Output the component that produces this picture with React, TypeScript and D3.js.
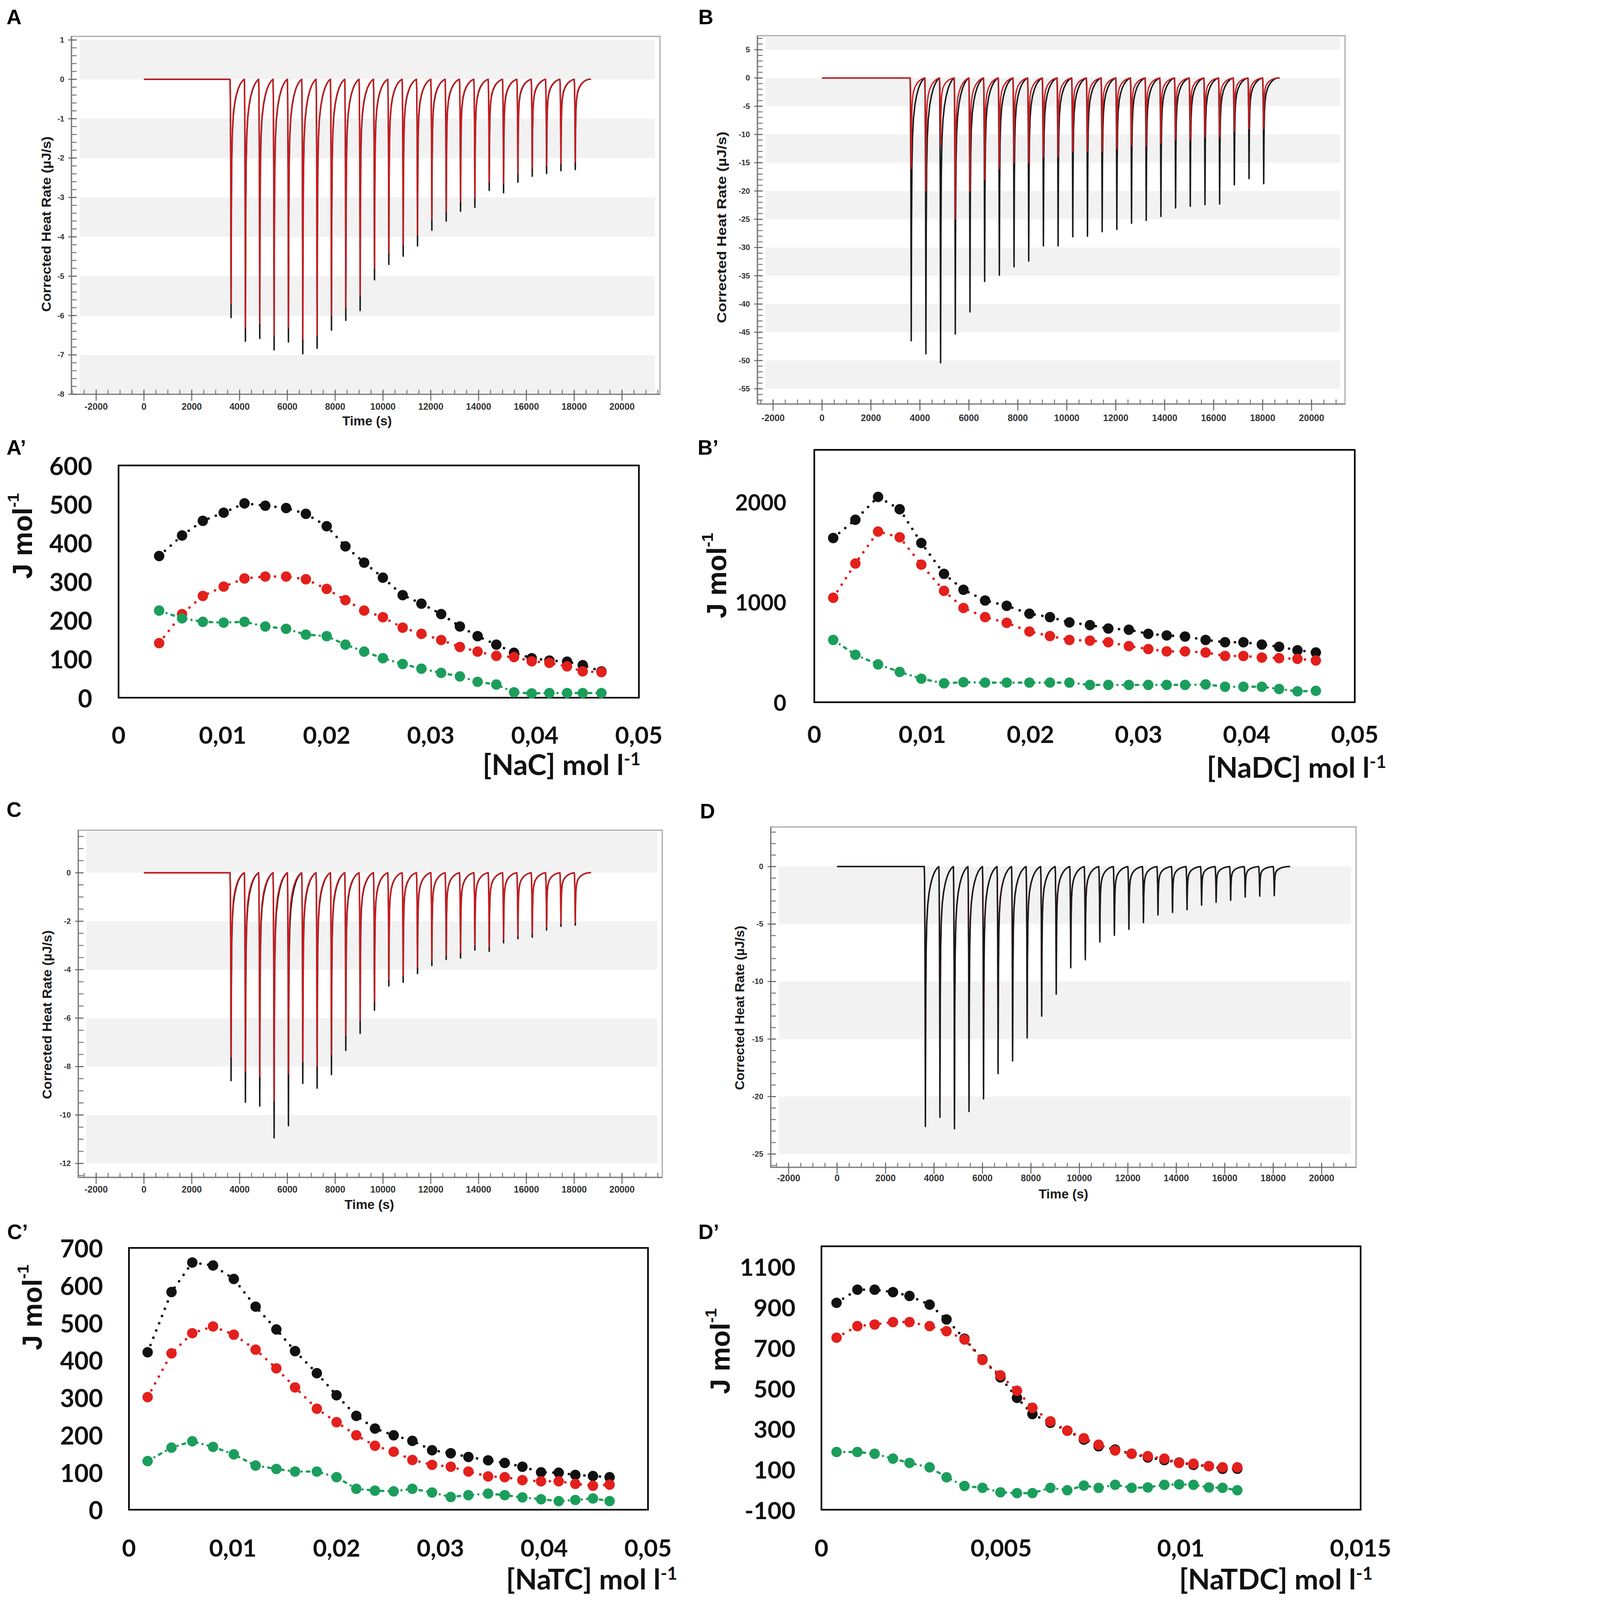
import React from 'react';
import * as d3 from 'd3';

const W = 4317;
const H = 4926;

// ---------- thermograms (A-D) ----------
const injectionTimes = [3600, 4200, 4800, 5400, 6000, 6600, 7200, 7800, 8400, 9000, 9600, 10200, 10800,
  11400, 12000, 12600, 13200, 13800, 14400, 15000, 15600, 16200, 16800, 17400, 18000];
const runEnd = 18700;

// one injection peak: [s after injection, share of peak depth]
const peakProfile: [number, number][] = [[0, 0], [12, 0.06], [30, 0.35], [45, 1], [58, 0.55], [75, 0.33], [100, 0.22],
  [140, 0.15], [200, 0.1], [270, 0.065], [350, 0.038], [430, 0.02], [510, 0.008], [570, 0.002], [600, 0]];

const timeTicks = [-2000, 0, 2000, 4000, 6000, 8000, 10000, 12000, 14000, 16000, 18000, 20000];
const timeTickLabels = ['-2000', '0', '2000', '4000', '6000', '8000', '10000', '12000', '14000', '16000', '18000', '20000'];

const depthA = [-6.05, -6.65, -6.58, -6.87, -6.67, -6.97, -6.83, -6.37, -6.12, -5.87, -5.09, -4.7, -4.49, -4.23,
  -3.83, -3.6, -3.35, -3.25, -2.82, -2.88, -2.61, -2.46, -2.39, -2.32, -2.29];
const redDepthA = [-5.7, -6.3, -6.2, -6.5, -6.3, -6.6, -6.5, -6.0, -5.8, -5.5, -4.8, -4.4, -4.2, -3.95, -3.55,
  -3.35, -3.1, -3.0, -2.6, -2.65, -2.4, -2.25, -2.2, -2.15, -2.1];
const yTicksA = [1, 0, -1, -2, -3, -4, -5, -6, -7, -8];
const bandsA: [number, number][] = [[1, 0], [-1, -2], [-3, -4], [-5, -6], [-7, -8]];

const depthB = [-46.5, -48.8, -50.4, -45.3, -41.4, -36.0, -34.9, -33.4, -32.4, -29.7, -29.7, -28.1, -28.0, -27.2,
  -26.8, -25.7, -25.2, -24.5, -23.0, -22.7, -22.4, -22.3, -18.9, -17.8, -18.7];
const redDepthB = [-16, -20, -12, -25, -20, -18, -16, -15, -15, -14, -14, -13, -13, -13, -12.5, -12, -12, -11.5,
  -11, -11, -10.5, -10.5, -9.5, -9, -9];
const yTicksB = [5, 0, -5, -10, -15, -20, -25, -30, -35, -40, -45, -50, -55];
const bandsB: [number, number][] = [[8, 5], [0, -5], [-10, -15], [-20, -25], [-30, -35], [-40, -45], [-50, -55]];

const depthC = [-8.58, -9.47, -9.63, -10.94, -10.44, -8.69, -8.89, -8.33, -7.33, -6.63, -5.67, -4.67, -4.52, -4.16,
  -3.83, -3.58, -3.52, -3.19, -3.24, -2.89, -2.72, -2.66, -2.36, -2.21, -2.16];
const redDepthC = [-7.6, -8.2, -8.4, -9.4, -8.3, -7.8, -8.0, -7.5, -6.7, -6.1, -5.3, -4.4, -4.25, -3.9, -3.6,
  -3.4, -3.3, -3.0, -3.05, -2.75, -2.6, -2.5, -2.25, -2.1, -2.05];
const yTicksC = [0, -2, -4, -6, -8, -10, -12];
const bandsC: [number, number][] = [[2, 0], [-2, -4], [-6, -8], [-10, -12]];

const depthD = [-22.6, -21.8, -22.8, -21.3, -20.2, -18.0, -16.9, -14.9, -13.0, -11.1, -8.8, -8.1, -6.55, -5.97,
  -5.45, -4.87, -4.21, -3.98, -3.75, -3.35, -3.11, -2.93, -2.65, -2.57, -2.53];
const redDepthD = [-22.0, -21.2, -22.2, -20.7, -19.7, -17.5, -16.4, -14.5, -12.6, -10.8, -8.6, -7.9, -6.4, -5.8,
  -5.3, -4.75, -4.1, -3.9, -3.65, -3.25, -3.0, -2.85, -2.6, -2.5, -2.45];
const yTicksD = [0, -5, -10, -15, -20, -25];
const bandsD: [number, number][] = [[0, -5], [-10, -15], [-20, -25]];

// ---------- enthalpy plots (A'-D') ----------
const concA = [0.0039, 0.0061, 0.0081, 0.0101, 0.0121, 0.0141, 0.0161, 0.018, 0.02, 0.0218, 0.0236, 0.0254, 0.0273,
  0.0291, 0.031, 0.0328, 0.0345, 0.0363, 0.038, 0.0397, 0.0414, 0.0431, 0.0446, 0.0464];
const blackA = [366, 419, 457, 478, 502, 496, 490, 475, 443, 391, 349, 310, 265, 243, 216, 184, 159, 137, 116, 102, 96, 93, 84, 68];
const redA = [141, 216, 263, 287, 308, 313, 313, 306, 281, 252, 225, 208, 181, 165, 149, 131, 119, 108, 105, 94, 90, 81, 68, 66];
const greenA = [225, 205, 196, 194, 196, 184, 178, 163, 159, 137, 119, 102, 87, 75, 64, 55, 41, 34, 14, 11, 12, 12, 12, 12];

const concB = [0.00175, 0.0038, 0.0059, 0.0079, 0.0099, 0.012, 0.0138, 0.0158, 0.0178, 0.0199, 0.0218, 0.0236, 0.0255,
  0.0272, 0.0291, 0.0309, 0.0326, 0.0343, 0.0362, 0.038, 0.0397, 0.0414, 0.043, 0.0447, 0.0464];
const blackB = [1640, 1822, 2050, 1927, 1590, 1282, 1123, 1016, 963, 884, 850, 797, 770, 736, 724, 683, 667, 656, 622, 599, 599, 576, 554, 519, 497];
const redB = [1043, 1385, 1704, 1647, 1374, 1112, 941, 850, 793, 706, 661, 622, 615, 599, 560, 531, 508, 508, 497, 462, 462, 446, 440, 433, 417];
const greenB = [622, 474, 378, 303, 235, 189, 200, 196, 196, 196, 196, 196, 173, 173, 173, 173, 173, 173, 178, 155, 155, 155, 132, 109, 114];

const concC = [0.0018, 0.0041, 0.0061, 0.0081, 0.0101, 0.0122, 0.0142, 0.016, 0.0181, 0.02, 0.0219, 0.0237, 0.0255,
  0.0273, 0.0292, 0.031, 0.0327, 0.0346, 0.0362, 0.0379, 0.0397, 0.0414, 0.043, 0.0447, 0.0463];
const blackC = [421, 582, 661, 653, 617, 543, 482, 424, 365, 306, 251, 217, 199, 184, 159, 151, 141, 132, 125, 115, 100, 99, 93, 90, 87];
const redC = [301, 418, 472, 490, 468, 428, 378, 327, 270, 234, 199, 171, 155, 133, 120, 115, 102, 89, 87, 79, 76, 76, 69, 64, 67];
const greenC = [130, 166, 183, 168, 148, 118, 109, 102, 102, 87, 56, 51, 49, 56, 46, 34, 39, 43, 39, 33, 28, 23, 26, 30, 23];

const concD = [0.00042, 0.001, 0.00148, 0.00199, 0.00245, 0.00301, 0.00348, 0.00398, 0.00448, 0.00498, 0.00544, 0.00587,
  0.00637, 0.00684, 0.0073, 0.00771, 0.00817, 0.00863, 0.00908, 0.00954, 0.00995, 0.01035, 0.01078, 0.01116, 0.01157];
const blackD = [921, 986, 986, 974, 955, 912, 839, 744, 642, 553, 452, 372, 329, 290, 246, 213, 197, 176, 158, 145, 133, 121, 115, 102, 102];
const redD = [749, 806, 814, 826, 826, 806, 781, 740, 639, 563, 487, 403, 336, 290, 253, 221, 192, 176, 164, 152, 131, 127, 115, 109, 109];
const greenD = [185, 185, 176, 152, 131, 109, 60, 17, 8, -14, -18, -18, 8, -4, 19, 8, 23, 8, 10, 23, 25, 23, 10, 8, -4];

const concTicks5 = [0, 0.01, 0.02, 0.03, 0.04, 0.05];
const concTickLabels5 = ['0', '0,01', '0,02', '0,03', '0,04', '0,05'];
const concTicksD = [0, 0.005, 0.01, 0.015];
const concTickLabelsD = ['0', '0,005', '0,01', '0,015'];

const yTicksA2 = [0, 100, 200, 300, 400, 500, 600];
const yTicksB2 = [0, 1000, 2000];
const yTicksC2 = [0, 100, 200, 300, 400, 500, 600, 700];
const yTicksD2 = [-100, 100, 300, 500, 700, 900, 1100];

type Frame = { l: number; t: number; r: number; b: number };

const ARIAL = "'Liberation Sans', Arial, sans-serif";
const CALIBRI = "Lato, 'Open Sans', sans-serif";

const Tag = (p: { text: string; x: number; y: number }) => (
  <text x={p.x} y={p.y} fontFamily={ARIAL} fontWeight="bold" fontSize={64} fill="#000">{p.text}</text>
);

interface ThermoProps {
  frame: Frame;
  xRange: [number, number];
  yVals: [number, number];
  yPix: [number, number];
  yTicks: number[];
  yMinor: number;
  bands: [number, number][];
  depths: number[];
  redDepths: number[];
  blackOnTop?: boolean;
  yLabelRight: number;
  xLabelBase: number;
  title: { x: number; y: number; len: number };
  time?: { x: number; y: number };
  tag: { text: string; x: number; y: number };
}

const Thermogram = (p: ThermoProps) => {
  const { l, t, r, b } = p.frame;
  const x = d3.scaleLinear().domain([-2000, 20000]).range(p.xRange);
  const y = d3.scaleLinear().domain(p.yVals).range(p.yPix);
  const linefunc = d3.line<[number, number]>().x(d => x(d[0])).y(d => y(d[1]));

  function trace(depths: number[]) {
    const pts: [number, number][] = [[0, 0], [injectionTimes[0], 0]];
    injectionTimes.forEach((t0, i) => {
      peakProfile.forEach(([dt, f]) => pts.push([t0 + dt, depths[i] * f]));
    });
    pts.push([runEnd, 0]);
    return linefunc(pts) ?? '';
  }

  const yLo = y.invert(b), yHi = y.invert(t);
  const minorY = d3.range(Math.ceil(yLo / p.yMinor) * p.yMinor, yHi, p.yMinor);
  const minorX = d3.range(Math.ceil(x.invert(l) / 500) * 500, x.invert(r), 500);

  const black = <path d={trace(p.depths)} fill="none" stroke="#1a1a1a" strokeWidth={4.5} strokeLinejoin="round" />;
  const red = <path d={trace(p.redDepths)} fill="none" stroke="#cf1a1e" strokeWidth={4} strokeLinejoin="round" />;

  return (
    <g>
      <Tag {...p.tag} />
      {p.bands.map(([hi, lo], i) => {
        const y0 = Math.max(t + 4, y(hi));
        const y1 = Math.min(b - 4, y(lo));
        return <rect key={i} x={l + 25} y={y0} width={r - l - 40} height={Math.max(0, y1 - y0)} fill="#f2f2f2" />;
      })}
      <rect x={l} y={t} width={r - l} height={b - t} fill="none" stroke="#b0b0b0" strokeWidth={4} />
      <line x1={l} x2={l} y1={t} y2={b} stroke="#808080" strokeWidth={4} />
      <line x1={l} x2={r} y1={b} y2={b} stroke="#808080" strokeWidth={4} />
      {minorY.map((v, i) => (
        <line key={'my' + i} x1={l} x2={l + 16} y1={y(v)} y2={y(v)} stroke="#777" strokeWidth={3} />
      ))}
      {p.yTicks.map(v => (
        <line key={'Y' + v} x1={l - 10} x2={l + 16} y1={y(v)} y2={y(v)} stroke="#666" strokeWidth={3} />
      ))}
      {minorX.map((v, i) => (
        <line key={'mx' + i} x1={x(v)} x2={x(v)} y1={b} y2={b - 14} stroke="#777" strokeWidth={3} />
      ))}
      {timeTicks.map(v => (
        <line key={'X' + v} x1={x(v)} x2={x(v)} y1={b + 20} y2={b - 14} stroke="#666" strokeWidth={3} />
      ))}
      {p.blackOnTop ? <>{red}{black}</> : <>{black}{red}</>}
      {p.yTicks.map(v => (
        <text key={'yl' + v} x={p.yLabelRight} y={y(v) + 8} textAnchor="end" fontFamily={ARIAL}
          fontWeight="bold" fontSize={24} fill="#333">{v}</text>
      ))}
      {timeTicks.map((v, i) => (
        <text key={'xl' + v} x={x(v)} y={p.xLabelBase} textAnchor="middle" fontFamily={ARIAL}
          fontWeight="bold" fontSize={28} fill="#333">{timeTickLabels[i]}</text>
      ))}
      <text transform={`translate(${p.title.x},${p.title.y}) rotate(-90)`} textAnchor="middle"
        dominantBaseline="central" fontFamily={ARIAL} fontWeight="bold" fontSize={40} fill="#1a1a1a"
        textLength={p.title.len} lengthAdjust="spacingAndGlyphs">Corrected Heat Rate (µJ/s)</text>
      {p.time && (
        <text x={p.time.x} y={p.time.y} textAnchor="middle" fontFamily={ARIAL} fontWeight="bold"
          fontSize={40} fill="#1a1a1a">Time (s)</text>
      )}
    </g>
  );
};

interface ScatterProps {
  frame: Frame;
  xDomain: [number, number];
  yDomain: [number, number];
  xTicks: number[];
  xTickLabels: string[];
  yTicks: number[];
  tickFont: number;
  yLabelRight: number;
  xLabelBase: number;
  conc: number[];
  black: number[];
  red: number[];
  green: number[];
  xTitle: { text: string; x: number; y: number };
  yTitle: { x: number; y: number };
  tag: { text: string; x: number; y: number };
}

const Scatter = (p: ScatterProps) => {
  const { l, t, r, b } = p.frame;
  const x = d3.scaleLinear().domain(p.xDomain).range([l, r]);
  const y = d3.scaleLinear().domain(p.yDomain).range([b, t]);

  const series = [
    { key: 'black', vals: p.black, color: '#111', dash: '0 24', width: 8 },
    { key: 'red', vals: p.red, color: '#e3201c', dash: '0 24', width: 8 },
    { key: 'green', vals: p.green, color: '#1b9e5b', dash: '8 16 0 16', width: 7 },
  ];

  return (
    <g>
      <Tag {...p.tag} />
      <rect x={l} y={t} width={r - l} height={b - t} fill="none" stroke="#000" strokeWidth={5} />
      {series.map(s => {
        const linefunc = d3.line<number>().x((_, i) => x(p.conc[i])).y(d => y(d));
        return (
          <g key={s.key}>
            <path d={linefunc(s.vals) ?? ''} fill="none" stroke={s.color} strokeWidth={s.width}
              strokeDasharray={s.dash} strokeLinecap="round" />
            {s.vals.map((v, i) => (
              <circle key={i} cx={x(p.conc[i])} cy={y(v)} r={16} fill={s.color} />
            ))}
          </g>
        );
      })}
      {p.yTicks.map(v => (
        <text key={'y' + v} x={p.yLabelRight} y={y(v)} dominantBaseline="central" textAnchor="end"
          fontFamily={CALIBRI} fontWeight={700} fontSize={p.tickFont} fill="#111">{v}</text>
      ))}
      {p.xTicks.map((v, i) => (
        <text key={'x' + i} x={x(v)} y={p.xLabelBase} textAnchor="middle" fontFamily={CALIBRI}
          fontWeight={700} fontSize={74} fill="#111">{p.xTickLabels[i]}</text>
      ))}
      <text x={p.xTitle.x} y={p.xTitle.y} textAnchor="end" fontFamily={CALIBRI} fontWeight={700}
        fontSize={88} fill="#111">
        {p.xTitle.text}<tspan dy={-30} fontSize={54}>-1</tspan>
      </text>
      <text transform={`translate(${p.yTitle.x},${p.yTitle.y}) rotate(-90)`} textAnchor="middle"
        dominantBaseline="central" fontFamily={ARIAL} fontWeight="bold" fontSize={84} fill="#111">
        J mol<tspan dy={-30} fontSize={50}>-1</tspan>
      </text>
    </g>
  );
};

export default function App() {
  React.useEffect(() => {
    document.documentElement.style.margin = '0';
    document.documentElement.style.overflow = 'hidden';
    document.body.style.margin = '0';
    document.body.style.overflow = 'hidden';
  }, []);

  return (
    <svg viewBox={`0 0 ${W} ${H}`} preserveAspectRatio="xMinYMin meet"
      style={{ position: 'fixed', left: 0, top: 0, width: '100vw', height: '100vh', display: 'block', background: '#fff' }}>
      <rect x={0} y={0} width={W} height={H} fill="#fff" />

      <Thermogram frame={{ l: 220, t: 112, r: 2032, b: 1214 }} xRange={[296, 1915]}
        yVals={[1, -8]} yPix={[123, 1214]} yTicks={yTicksA} yMinor={0.2} bands={bandsA}
        depths={depthA} redDepths={redDepthA} yLabelRight={198} xLabelBase={1262}
        title={{ x: 143, y: 690, len: 540 }} time={{ x: 1130, y: 1310 }} tag={{ text: 'A', x: 20, y: 75 }} />

      <Thermogram frame={{ l: 2332, t: 110, r: 4141, b: 1244 }} xRange={[2380, 4038]}
        yVals={[5, -55]} yPix={[153, 1197]} yTicks={yTicksB} yMinor={1} bands={bandsB}
        depths={depthB} redDepths={redDepthB} yLabelRight={2309} xLabelBase={1296}
        title={{ x: 2222, y: 700, len: 590 }} tag={{ text: 'B', x: 2150, y: 75 }} />

      <Thermogram frame={{ l: 241, t: 2556, r: 2039, b: 3625 }} xRange={[296, 1915]}
        yVals={[0, -12]} yPix={[2687, 3582]} yTicks={yTicksC} yMinor={0.5} bands={bandsC}
        depths={depthC} redDepths={redDepthC} yLabelRight={218} xLabelBase={3672}
        title={{ x: 145, y: 3124, len: 520 }} time={{ x: 1137, y: 3722 }} tag={{ text: 'C', x: 20, y: 2515 }} />

      <Thermogram frame={{ l: 2373, t: 2546, r: 4175, b: 3594 }} xRange={[2428, 4069]}
        yVals={[0, -25]} yPix={[2668, 3553]} yTicks={yTicksD} yMinor={1} bands={bandsD}
        depths={depthD} redDepths={redDepthD} blackOnTop yLabelRight={2350} xLabelBase={3637}
        title={{ x: 2277, y: 3103, len: 506 }} time={{ x: 3274, y: 3690 }} tag={{ text: 'D', x: 2155, y: 2519 }} />

      <Scatter frame={{ l: 365, t: 1433, r: 1967, b: 2148 }} xDomain={[0, 0.05]} yDomain={[0, 600]}
        xTicks={concTicks5} xTickLabels={concTickLabels5} yTicks={yTicksA2} tickFont={76}
        yLabelRight={284} xLabelBase={2290} conc={concA} black={blackA} red={redA} green={greenA}
        xTitle={{ text: '[NaC] mol l', x: 1972, y: 2386 }} yTitle={{ x: 70, y: 1650 }}
        tag={{ text: 'A\u2019', x: 20, y: 1400 }} />

      <Scatter frame={{ l: 2507, t: 1385, r: 4171, b: 2162 }} xDomain={[0, 0.05]} yDomain={[0, 2520]}
        xTicks={concTicks5} xTickLabels={concTickLabels5} yTicks={yTicksB2} tickFont={68}
        yLabelRight={2421} xLabelBase={2287} conc={concB} black={blackB} red={redB} green={greenB}
        xTitle={{ text: '[NaDC] mol l', x: 4268, y: 2394 }} yTitle={{ x: 2207, y: 1772 }}
        tag={{ text: 'B\u2019', x: 2148, y: 1400 }} />

      <Scatter frame={{ l: 397, t: 3842, r: 1995, b: 4648 }} xDomain={[0, 0.05]} yDomain={[0, 700]}
        xTicks={concTicks5} xTickLabels={concTickLabels5} yTicks={yTicksC2} tickFont={76}
        yLabelRight={317} xLabelBase={4792} conc={concC} black={blackC} red={redC} green={greenC}
        xTitle={{ text: '[NaTC] mol l', x: 2085, y: 4894 }} yTitle={{ x: 100, y: 4025 }}
        tag={{ text: 'C\u2019', x: 22, y: 3815 }} />

      <Scatter frame={{ l: 2529, t: 3837, r: 4189, b: 4648 }} xDomain={[0, 0.015]} yDomain={[-100, 1200]}
        xTicks={concTicksD} xTickLabels={concTickLabelsD} yTicks={yTicksD2} tickFont={74}
        yLabelRight={2449} xLabelBase={4792} conc={concD} black={blackD} red={redD} green={greenD}
        xTitle={{ text: '[NaTDC] mol l', x: 4226, y: 4894 }} yTitle={{ x: 2218, y: 4160 }}
        tag={{ text: 'D\u2019', x: 2150, y: 3815 }} />
    </svg>
  );
}
